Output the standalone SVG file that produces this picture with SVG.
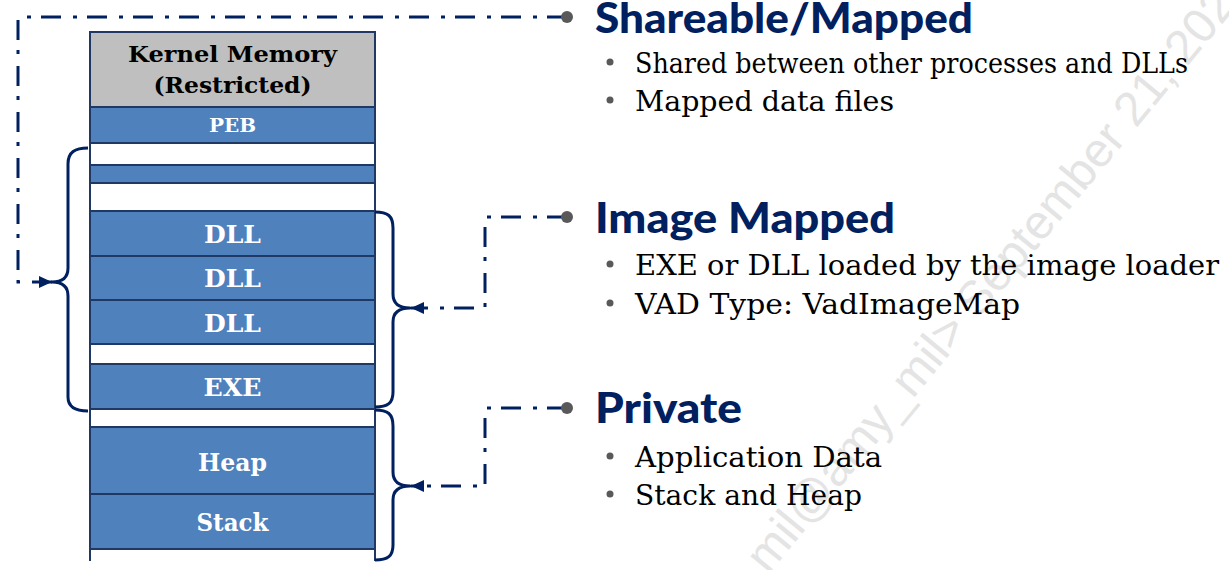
<svg xmlns="http://www.w3.org/2000/svg" width="1229" height="570" viewBox="0 0 1229 570">
<style>
.cell{stroke:#1f3864;stroke-width:2}
.blue{fill:#4f81bd}
.white{fill:#ffffff}
.gray{fill:#bfbfbf}
.lbl{font-family:"DejaVu Serif","Liberation Serif",serif;font-weight:bold;text-anchor:middle;fill:#ffffff}
.klbl{font-family:"DejaVu Serif","Liberation Serif",serif;font-weight:bold;text-anchor:middle;fill:#000000;font-size:22px}
.head{font-family:Lato,"Open Sans","Liberation Sans",sans-serif;font-weight:900;fill:#002060;font-size:42px}
.body{font-family:"DejaVu Serif","Liberation Serif",serif;fill:#000000;font-size:27px}
.bul{fill:#595959}
.dash{fill:none;stroke:#002060;stroke-width:3;stroke-dasharray:20 10 4 12}
.brace{fill:none;stroke:#002060;stroke-width:3;stroke-linejoin:round}
.wm{font-family:"Liberation Sans","DejaVu Sans",sans-serif;font-size:48px;fill:#e4e4e4}
</style>
<defs>
<marker id="arr" markerUnits="userSpaceOnUse" markerWidth="14" markerHeight="14" refX="13" refY="6" orient="auto">
<path d="M0,0 L13,6 L0,12 Z" fill="#002060"/>
</marker>
</defs>
<rect x="0" y="0" width="1229" height="570" fill="#ffffff"/>
<text class="wm" transform="translate(768,575) rotate(-50.5)">mil@amy_mil&gt; September 21, 202</text>

<g id="memory">
<g id="kernel"><rect class="cell gray" x="90" y="32" width="285" height="75"/><text class="klbl" x="232.5" y="62" textLength="209" lengthAdjust="spacingAndGlyphs">Kernel Memory</text><text class="klbl" x="232.5" y="93" textLength="158" lengthAdjust="spacingAndGlyphs">(Restricted)</text></g>
<g id="peb"><rect class="cell blue" x="90" y="107" width="285" height="36"/><text class="lbl" x="232.5" y="131.5" font-size="19" textLength="47" lengthAdjust="spacingAndGlyphs">PEB</text></g>
<g id="free1"><rect class="cell white" x="90" y="143" width="285" height="22"/></g>
<g id="block1"><rect class="cell blue" x="90" y="165" width="285" height="18"/></g>
<g id="free2"><rect class="cell white" x="90" y="183" width="285" height="28"/></g>
<g id="dll1"><rect class="cell blue" x="90" y="211" width="285" height="45"/><text class="lbl" x="232.5" y="243" font-size="25" textLength="57" lengthAdjust="spacingAndGlyphs">DLL</text></g>
<g id="dll2"><rect class="cell blue" x="90" y="256" width="285" height="44"/><text class="lbl" x="232.5" y="287" font-size="25" textLength="57" lengthAdjust="spacingAndGlyphs">DLL</text></g>
<g id="dll3"><rect class="cell blue" x="90" y="300" width="285" height="44"/><text class="lbl" x="232.5" y="332" font-size="25" textLength="57" lengthAdjust="spacingAndGlyphs">DLL</text></g>
<g id="free3"><rect class="cell white" x="90" y="344" width="285" height="20"/></g>
<g id="exe"><rect class="cell blue" x="90" y="364" width="285" height="45"/><text class="lbl" x="232.5" y="396" font-size="25" textLength="58" lengthAdjust="spacingAndGlyphs">EXE</text></g>
<g id="free4"><rect class="cell white" x="90" y="409" width="285" height="18"/></g>
<g id="heap"><rect class="cell blue" x="90" y="427" width="285" height="67"/><text class="lbl" x="232.5" y="471" font-size="25" textLength="69" lengthAdjust="spacingAndGlyphs">Heap</text></g>
<g id="stack"><rect class="cell blue" x="90" y="494" width="285" height="55"/><text class="lbl" x="232.5" y="531" font-size="25" textLength="72" lengthAdjust="spacingAndGlyphs">Stack</text></g>
<g id="free5"><path d="M90,549 V561 M375,549 V561" stroke="#1f3864" stroke-width="2" fill="none"/></g>
</g>

<g id="braces">
<path class="brace" d="M88,148 C75,148 68,152 68,164 V268 C68,278 62,282 52,282 C62,282 68,286 68,296 V397 C68,407 75,411 88,411"/>
<path class="brace" d="M375,212 C388,212 393,216 393,228 V294 C393,304 399,308 410,308 C399,308 393,312 393,322 V392 C393,403 388,407 375,407"/>
<path class="brace" d="M375,410 C388,410 393,414 393,426 V472 C393,482 399,486 410,486 C399,486 393,490 393,500 V545 C393,556 388,560 375,560"/>
</g>

<g id="connectors">
<path class="dash" d="M567,17 H18 V282 H52" marker-end="url(#arr)"/>
<path class="dash" d="M567,217 H485 V308 H411" marker-end="url(#arr)"/>
<path class="dash" d="M567,408 H485 V486 H411" marker-end="url(#arr)"/>
<circle cx="567" cy="17" r="6" fill="#595959"/>
<circle cx="567" cy="217" r="6" fill="#595959"/>
<circle cx="567" cy="408" r="6" fill="#595959"/>
</g>

<g id="shareable">
<text class="head" x="595" y="33" textLength="378" lengthAdjust="spacingAndGlyphs">Shareable/Mapped</text>
<circle class="bul" cx="610" cy="62" r="3.5"/>
<text class="body" x="635" y="73" textLength="553" lengthAdjust="spacingAndGlyphs">Shared between other processes and DLLs</text>
<circle class="bul" cx="610" cy="100" r="3.5"/>
<text class="body" x="635" y="111" textLength="259" lengthAdjust="spacingAndGlyphs">Mapped data files</text>
</g>

<g id="image-mapped">
<text class="head" x="595" y="233" textLength="300" lengthAdjust="spacingAndGlyphs">Image Mapped</text>
<circle class="bul" cx="610" cy="264" r="3.5"/>
<text class="body" x="635" y="275" textLength="584" lengthAdjust="spacingAndGlyphs">EXE or DLL loaded by the image loader</text>
<circle class="bul" cx="610" cy="303" r="3.5"/>
<text class="body" x="635" y="314" textLength="385" lengthAdjust="spacingAndGlyphs">VAD Type: VadImageMap</text>
</g>

<g id="private">
<text class="head" x="595" y="423" textLength="147" lengthAdjust="spacingAndGlyphs">Private</text>
<circle class="bul" cx="610" cy="456" r="3.5"/>
<text class="body" x="635" y="467" textLength="247" lengthAdjust="spacingAndGlyphs">Application Data</text>
<circle class="bul" cx="610" cy="494" r="3.5"/>
<text class="body" x="635" y="505" textLength="227" lengthAdjust="spacingAndGlyphs">Stack and Heap</text>
</g>
</svg>
